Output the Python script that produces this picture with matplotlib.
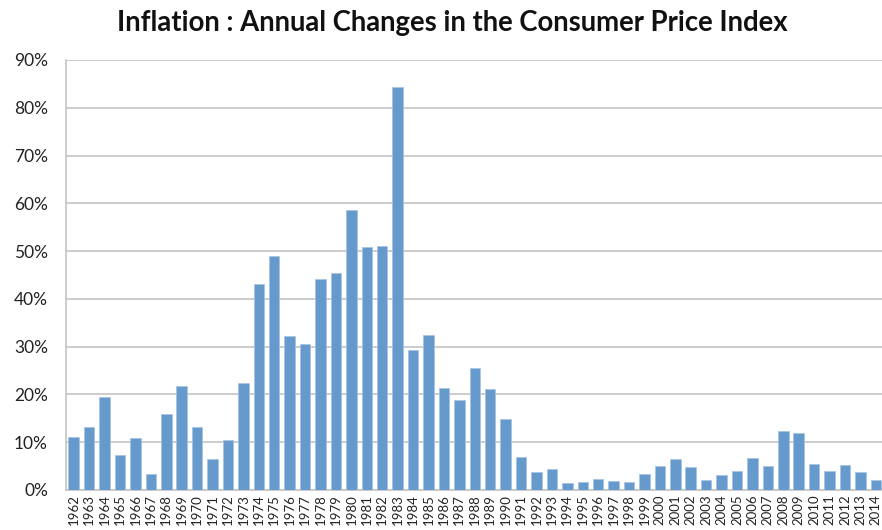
import matplotlib
matplotlib.use("Agg")
import matplotlib.pyplot as plt
from matplotlib.ticker import FuncFormatter, MultipleLocator

years = list(range(1962, 2015))
inflation = [
    11.0, 13.1, 19.5, 7.3, 10.8, 3.4, 16.0, 21.7, 13.2, 6.4,
    10.5, 22.3, 43.1, 49.0, 32.3, 30.6, 44.2, 45.5, 58.6, 50.9,
    51.1, 84.3, 29.2, 32.4, 21.4, 18.8, 25.5, 21.1, 14.9, 6.9,
    3.8, 4.3, 1.5, 1.6, 2.2, 1.8, 1.7, 3.3, 5.0, 6.5,
    4.8, 2.0, 3.1, 4.0, 6.8, 5.0, 12.3, 12.0, 5.4, 4.0,
    5.2, 3.8, 2.0,
]
title = "Inflation : Annual Changes in the Consumer Price Index"

plt.rcParams['font.family'] = ['Lato', 'DejaVu Sans']

fig = plt.figure(figsize=(8.82, 5.30), dpi=100)
ax = fig.add_axes([66/882, 1-490/530, 1-66/882, (490-60)/530])

x = list(range(len(years)))
ax.bar(x, inflation, width=0.68, color='#6699cc', edgecolor='#a8c4e4', linewidth=0.6, zorder=3)

ax.set_xlim(-0.5, 52.4)
ax.set_ylim(0, 90)
ax.yaxis.set_major_locator(MultipleLocator(10))
ax.yaxis.set_major_formatter(FuncFormatter(lambda v, p: f"{int(round(v))}%"))
ax.grid(axis='y', color='#c4c4c4', linewidth=1.2, zorder=0)
ax.set_axisbelow(True)

ax.set_xticks(x)
ax.set_xticklabels([str(y) for y in years], rotation=90, fontsize=9.5, color='#222222')
ax.tick_params(axis='x', length=0, pad=3)
ax.tick_params(axis='y', length=0, pad=13, labelsize=12.5, labelcolor='#222222')

for s in ['top', 'right']:
    ax.spines[s].set_visible(False)
ax.spines['left'].set_color('#c4c4c4')
ax.spines['left'].set_linewidth(1.2)
ax.spines['bottom'].set_color('#c4c4c4')
ax.spines['bottom'].set_linewidth(1.2)

fig.text(452/882, 1-23/530, title, ha='center', va='center', fontsize=19.8, fontweight='bold', color='#111111')

fig.savefig("out.png", dpi=100)
